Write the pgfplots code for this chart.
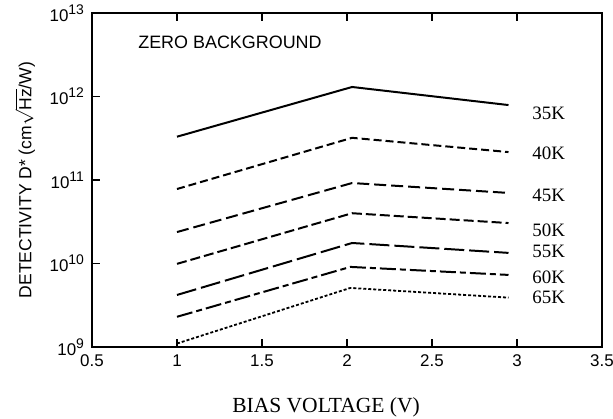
\documentclass[border=0pt]{standalone}
\usepackage{fontspec}
\setmainfont{Liberation Serif}
\setsansfont{Liberation Sans}
\usepackage{pgfplots}
\pgfplotsset{compat=1.18}
\newcommand{\pw}[1]{10\raisebox{0.4em}{\fontsize{7}{7}\selectfont #1}}
\begin{document}
\begin{tikzpicture}
\useasboundingbox (-46bp,-36bp) rectangle (260.5bp,173.5bp);
\begin{axis}[
  at={(0,0)}, anchor=south west,
  scale only axis,
  width=255bp, height=167bp,
  xmin=0.5, xmax=3.5,
  ymode=log, ymin=1e9, ymax=1e13,
  xtick={0.5,1,1.5,2,2.5,3,3.5},
  xticklabels={0.5,1,1.5,2,2.5,3,3.5},
  ytick={1e9,1e10,1e11,1e12,1e13},
  yticklabels={\pw{9},\pw{10},\pw{11},\pw{12},\pw{13}},
  minor tick num=0, yminorticks=false,
  tick align=inside,
  xtick pos=both, ytick pos=left,
  major tick length=4bp,
  tick style={line width=0.6pt, black},
  axis line style={line width=0.7pt},
  ticklabel style={font=\sffamily\fontsize{8.5}{8.5}\selectfont},
  xticklabel style={yshift=-0.5bp},
  yticklabel style={xshift=-0.5bp},
  xlabel={BIAS VOLTAGE (V)},
  xlabel style={font=\rmfamily\fontsize{10.8}{10.8}\selectfont, at={(axis description cs:0.459,-0.1796)}, anchor=center},
  ylabel={DETECTIVITY D* (cm$\sqrt{\mbox{Hz}}$/W)},
  ylabel style={font=\sffamily\fontsize{8.8}{8.8}\selectfont, at={(axis description cs:-0.1314,0.5)}, anchor=center},
  clip=false,
]
\addplot[black, line width=1pt] coordinates {(1,3.3e11) (2.03,1.3e12) (2.95,7.9e11)};
\addplot[black, line width=1pt, dash pattern=on 4bp off 2bp] coordinates {(1,7.8e10) (2.03,3.2e11) (2.95,2.16e11)};
\addplot[black, line width=1pt, dash pattern=on 6bp off 2.5bp] coordinates {(1,2.38e10) (2.03,9.2e10) (2.95,7.0e10)};
\addplot[black, line width=1pt, dash pattern=on 5bp off 2bp] coordinates {(1,9.9e9) (2.03,4.0e10) (2.95,3.05e10)};
\addplot[black, line width=1pt, dash pattern=on 10bp off 2.5bp] coordinates {(1,4.2e9) (2.03,1.76e10) (2.95,1.34e10)};
\addplot[black, line width=1pt, dash pattern=on 8bp off 2bp on 3bp off 2bp] coordinates {(1,2.3e9) (2.02,9.1e9) (2.95,7.3e9)};
\addplot[black, line width=0.9pt, dash pattern=on 1.5bp off 1bp] coordinates {(1,1.1e9) (2.02,5.1e9) (2.95,3.9e9)};
\begin{scope}[every node/.style={anchor=west, font=\rmfamily\fontsize{9.5}{9.5}\selectfont, inner sep=0pt}]
\node at (axis cs:3.088,6.3e11) {35K};
\node at (axis cs:3.088,2.1e11) {40K};
\node at (axis cs:3.088,6.6e10) {45K};
\node at (axis cs:3.088,2.5e10) {50K};
\node at (axis cs:3.088,1.38e10) {55K};
\node at (axis cs:3.088,6.9e9) {60K};
\node at (axis cs:3.088,3.9e9) {65K};
\end{scope}
\node[anchor=west, inner sep=0pt, font=\sffamily\fontsize{9}{9}\selectfont] at (axis cs:0.77,4.4e12) {ZERO BACKGROUND};
\end{axis}
\end{tikzpicture}
\end{document}
